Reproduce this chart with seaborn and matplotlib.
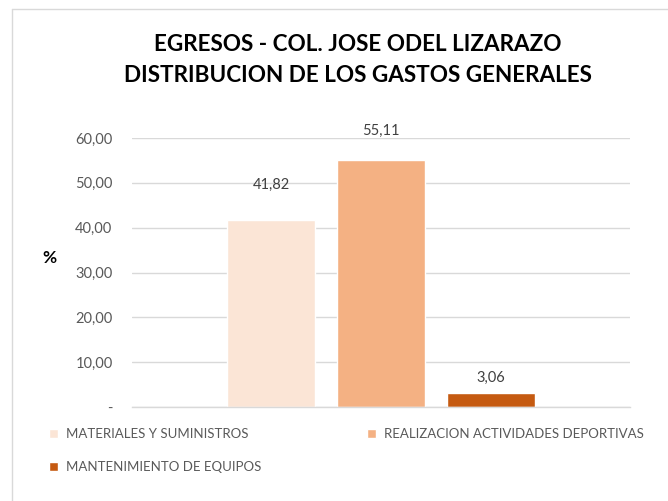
import pandas as pd
import matplotlib
matplotlib.use('Agg')
import matplotlib.pyplot as plt
from matplotlib.lines import Line2D
from matplotlib.ticker import FuncFormatter
import seaborn as sns

# Data
categoria = ['EGRESOS']
series = ['MATERIALES Y SUMINISTROS',
          'REALIZACION ACTIVIDADES DEPORTIVAS',
          'MANTENIMIENTO DE EQUIPOS']
porcentajes = [41.82, 55.11, 3.06]
colores = ['#FBE5D6', '#F4B183', '#C55A11']

titulo = 'EGRESOS - COL. JOSE ODEL LIZARAZO\nDISTRIBUCION DE LOS GASTOS GENERALES'

df = pd.DataFrame({'categoria': categoria * len(series),
                   'serie': series,
                   'valor': porcentajes})

sns.set_theme(style='white')
plt.rcParams['font.family'] = ['Lato', 'DejaVu Sans']

fig = plt.figure(figsize=(6.68, 5.01), dpi=100)
ax = fig.add_axes([132 / 668, 1 - 407 / 501, 498 / 668, 269 / 501])

sns.barplot(data=df, x='categoria', y='valor', hue='serie',
            hue_order=series, palette=colores, width=0.663, gap=0.2,
            saturation=1, ax=ax)

ax.set_xlim(-0.5, 0.5)
ax.set_ylim(0, 60)
ax.set_yticks(range(0, 61, 10))


def formato(v, pos):
    if v == 0:
        return '-'
    return f'{v:.2f}'.replace('.', ',')


ax.yaxis.set_major_formatter(FuncFormatter(formato))
ax.tick_params(axis='y', length=0, pad=14, labelsize=10.5, labelcolor='#595959')
ax.set_xticks([])
ax.set_xlabel('')
ax.grid(axis='y', color='#D9D9D9', lw=1)
ax.set_axisbelow(True)
for lado in ['left', 'right', 'top']:
    ax.spines[lado].set_visible(False)
ax.spines['bottom'].set_color('#D9D9D9')
ax.spines['bottom'].set_linewidth(1)

ax.set_ylabel('%', rotation=0, fontweight='bold', fontsize=12.5, color='black',
              va='center', ha='center')
ax.yaxis.set_label_coords(-0.165, 0.555)

# data labels (Excel places them a bit irregularly)
pads = [20, 16, 6]
for cont, pad in zip(ax.containers, pads):
    ax.bar_label(cont, labels=[formato(v, None) for v in cont.datavalues],
                 padding=pad, fontsize=10.5, color='#404040')

fig.text(358 / 668, 1 - 60 / 501, titulo, ha='center', va='center',
         fontsize=16.2, fontweight='bold', color='black', linespacing=1.55)

# legend: two rows, reordered so row1 = first two series
handles, labels = ax.get_legend_handles_labels()
ax.get_legend().remove()
orden = [0, 2, 1]
fig.legend([handles[i] for i in orden], [labels[i] for i in orden],
           ncol=2, loc='upper left', bbox_to_anchor=(49 / 668, 1 - 428 / 501),
           frameon=False, borderpad=0, borderaxespad=0, fontsize=9.5,
           labelcolor='#595959', handlelength=0.7, handleheight=0.7,
           handletextpad=0.6, labelspacing=1.6, columnspacing=8)

# chart area border (cropped on right/bottom in the reference)
fig.add_artist(Line2D([12 / 668, 12 / 668], [0, 1 - 9 / 501],
                      transform=fig.transFigure, color='#D9D9D9', lw=1))
fig.add_artist(Line2D([12 / 668, 1], [1 - 9 / 501, 1 - 9 / 501],
                      transform=fig.transFigure, color='#D9D9D9', lw=1))

fig.savefig('out.png', dpi=100)
